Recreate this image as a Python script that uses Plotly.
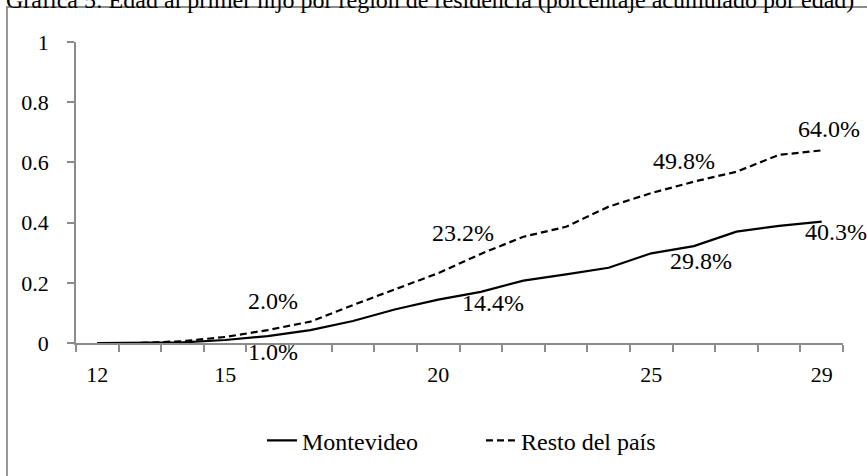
"""Gráfica 5: edad al primer hijo por región de residencia."""

import plotly.graph_objects as go

AGES = list(range(12, 30))
MONTEVIDEO = [0.0, 0.0, 0.002, 0.010, 0.023, 0.043, 0.073, 0.112, 0.144,
              0.170, 0.207, 0.228, 0.250, 0.298, 0.322, 0.370, 0.389, 0.403]
RESTO = [0.0, 0.0, 0.006, 0.020, 0.043, 0.071, 0.126, 0.178, 0.232,
         0.296, 0.353, 0.386, 0.453, 0.498, 0.536, 0.569, 0.625, 0.640]
SERIES_NAMES = ["Montevideo", "Resto del país"]
X_TICK_LABELS = [12, 15, 20, 25, 29]
LABELED_AGES = [15, 20, 25, 29]
TITLE = "Gráfica 5: Edad al primer hijo por región de residencia (porcentaje acumulado por edad)"

FONT = "Liberation Serif"
AXIS_GREY = "#8c8c8c"

# pixel offsets of the data labels (xshift, yshift), per series
LABEL_SHIFTS = {
    "Montevideo": [(48, -12), (55, -3), (50, -8), (14, -10)],
    "Resto del país": [(48, 36), (25, 40), (33, 32), (7, 21)],
}

fig = go.Figure()
fig.add_trace(go.Scatter(
    x=AGES, y=MONTEVIDEO, name=SERIES_NAMES[0], mode="lines",
    line={"color": "black", "width": 2.2},
))
fig.add_trace(go.Scatter(
    x=AGES, y=RESTO, name=SERIES_NAMES[1], mode="lines",
    line={"color": "black", "width": 2.2, "dash": "7px,4px"},
))

for name, values in zip(SERIES_NAMES, [MONTEVIDEO, RESTO]):
    for age, (dx, dy) in zip(LABELED_AGES, LABEL_SHIFTS[name]):
        v = values[AGES.index(age)]
        fig.add_annotation(
            x=age, y=v, xref="x", yref="y", text=f"{v * 100:.1f}%",
            showarrow=False, xshift=dx, yshift=dy,
            font={"family": FONT, "size": 24, "color": "black"},
        )

# title (cropped at the top edge, as in the source) and outer frame
fig.add_annotation(
    x=-0.0939, y=1.14, xref="paper", yref="paper", xanchor="left", yanchor="middle",
    text=TITLE, showarrow=False, font={"family": FONT, "size": 24, "color": "black"},
)
fig.add_shape(
    type="rect", xref="paper", yref="paper", x0=-0.09, y0=-0.6, x1=1.2, y1=1.1163,
    line={"color": AXIS_GREY, "width": 1.8}, fillcolor="rgba(0,0,0,0)", layer="below",
)

boundaries = [a - 0.5 for a in AGES] + [AGES[-1] + 0.5]
fig.update_xaxes(
    range=[AGES[0] - 0.5, AGES[-1] + 0.5],
    tickvals=X_TICK_LABELS, ticktext=[str(t) for t in X_TICK_LABELS],
    ticks="", ticklabelstandoff=11,
    minor={"tickvals": boundaries, "ticks": "outside", "ticklen": 7,
           "tickcolor": AXIS_GREY, "tickwidth": 1.5},
    showline=True, linecolor=AXIS_GREY, linewidth=1.5,
    showgrid=False, zeroline=False,
    tickfont={"family": FONT, "size": 22, "color": "black"},
)
fig.update_yaxes(
    range=[0, 1], tickvals=[0, 0.2, 0.4, 0.6, 0.8, 1],
    ticktext=["0", "0.2", "0.4", "0.6", "0.8", "1"],
    ticks="outside", ticklen=7, tickcolor=AXIS_GREY, tickwidth=1.5,
    ticklabelstandoff=14,
    showline=True, linecolor=AXIS_GREY, linewidth=1.5,
    showgrid=False, zeroline=False,
    tickfont={"family": FONT, "size": 22, "color": "black"},
)
fig.update_layout(
    width=867, height=476,
    margin={"l": 76, "r": 24, "t": 42, "b": 133},
    plot_bgcolor="white", paper_bgcolor="white",
    showlegend=True,
    legend={"orientation": "h", "x": 0.528, "xanchor": "center",
            "y": -0.325, "yanchor": "middle",
            "entrywidth": 174, "entrywidthmode": "pixels",
            "font": {"family": FONT, "size": 24, "color": "black"}},
)

# drop the page's default 8px body margin so the figure sits at the window corner
fig.write_html(
    "out.html",
    config={"displayModeBar": False},
    post_script="document.body.style.margin = '0';",
)
